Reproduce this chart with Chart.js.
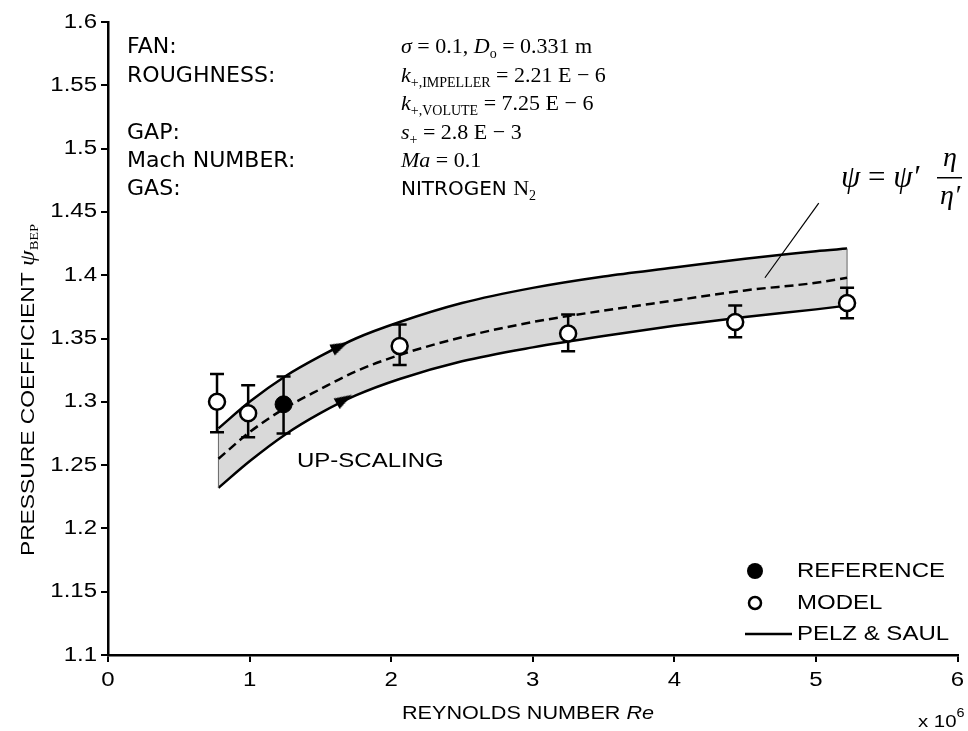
<!DOCTYPE html>
<html>
<head>
<meta charset="utf-8">
<title>Pressure coefficient vs Reynolds number</title>
<script src="https://cdn.jsdelivr.net/npm/chart.js@4.4.1/dist/chart.umd.min.js"></script>
<style>
  html, body { margin: 0; padding: 0; background: #fff; }
  #wrap { width: 968px; height: 731px; }
</style>
</head>
<body>
<div id="wrap"><canvas id="chart" width="968" height="731"></canvas></div>
<script>
// Band (Pelz & Saul up-scaling)
const reValues = [0.78, 1.0, 1.25, 1.5, 1.75, 2.06, 2.5, 3.0, 3.5, 4.0, 4.5, 5.0, 5.22];
const upperPsi = [1.279, 1.300, 1.320, 1.336, 1.350, 1.363, 1.378, 1.390, 1.399, 1.406, 1.413, 1.419, 1.421];
const meanPsi  = [1.255, 1.276, 1.295, 1.310, 1.324, 1.337, 1.351, 1.363, 1.372, 1.380, 1.388, 1.394, 1.398];
const lowerPsi = [1.232, 1.253, 1.274, 1.291, 1.305, 1.318, 1.332, 1.343, 1.352, 1.360, 1.367, 1.373, 1.376];

// Measurements
const modelRe      = [0.77, 0.99, 2.06, 3.25, 4.43, 5.22];
const modelPsi     = [1.300, 1.291, 1.344, 1.354, 1.363, 1.378];
const modelErrLow  = [1.276, 1.272, 1.329, 1.340, 1.351, 1.366];
const modelErrHigh = [1.322, 1.313, 1.361, 1.369, 1.376, 1.390];
const refRe      = [1.24];
const refPsi     = [1.298];
const refErrLow  = [1.275];
const refErrHigh = [1.320];

// direction arrows on the band edges, and the leader line to the formula
const arrowRe  = [1.64, 1.67];
const arrowPsi = [1.344, 1.302];
const leaderRe  = [4.64, 5.02];
const leaderPsi = [1.398, 1.457];

// axes
const xTicks = [0, 1, 2, 3, 4, 5, 6];
const yTicks = [1.1, 1.15, 1.2, 1.25, 1.3, 1.35, 1.4, 1.45, 1.5, 1.55, 1.6];

const SANS = '"Liberation Sans", Arial, sans-serif';
const VERD = '"DejaVu Sans", Verdana, sans-serif';
const SERIF = '"Liberation Serif", "DejaVu Serif", serif';
const STRETCH = 1.2;

function pts(xs, ys) {
  return xs.map((x, i) => ({ x: x, y: ys[i] }));
}

// arrow head pointing right, used as point style
const arrowHead = document.createElement('canvas');
arrowHead.width = 18;
arrowHead.height = 12;
(function () {
  const c = arrowHead.getContext('2d');
  c.fillStyle = '#000';
  c.beginPath();
  c.moveTo(0, 0); c.lineTo(18, 6); c.lineTo(0, 12); c.closePath();
  c.fill();
})();

// draw a run of text pieces, left to right; returns end x
function rich(ctx, x, y, parts, sx) {
  sx = sx || 1;
  let cx = x;
  parts.forEach(p => {
    ctx.save();
    ctx.font = p.f;
    ctx.textAlign = 'left';
    ctx.textBaseline = 'alphabetic';
    ctx.translate(cx, y + (p.dy || 0));
    ctx.scale(sx, 1);
    ctx.fillText(p.t, 0, 0);
    cx += ctx.measureText(p.t).width * sx;
    ctx.restore();
  });
  return cx;
}

function label(ctx, s, x, y, font, align, base, sx) {
  ctx.save();
  ctx.font = font;
  ctx.textAlign = align;
  ctx.textBaseline = base;
  ctx.translate(x, y);
  ctx.scale(sx || 1, 1);
  ctx.fillText(s, 0, 0);
  ctx.restore();
}

const errorBars = {
  id: 'errorBars',
  beforeDatasetDraw(chart, args) {
    if (args.index !== 7) return;
    const ctx = chart.ctx;
    const xs = chart.scales.x, ys = chart.scales.y;
    const sets = [[modelRe, modelErrLow, modelErrHigh], [refRe, refErrLow, refErrHigh]];
    ctx.save();
    ctx.strokeStyle = '#000';
    ctx.lineWidth = 2.5;
    sets.forEach(s => {
      s[0].forEach((re, i) => {
        const px = xs.getPixelForValue(re);
        const lo = ys.getPixelForValue(s[1][i]);
        const hi = ys.getPixelForValue(s[2][i]);
        ctx.beginPath();
        ctx.moveTo(px, lo); ctx.lineTo(px, hi);
        ctx.moveTo(px - 7, lo); ctx.lineTo(px + 7, lo);
        ctx.moveTo(px - 7, hi); ctx.lineTo(px + 7, hi);
        ctx.stroke();
      });
    });
    ctx.restore();
  }
};

const annotations = {
  id: 'annotations',
  afterDraw(chart) {
    const ctx = chart.ctx;
    const xs = chart.scales.x, ys = chart.scales.y;
    ctx.save();
    ctx.fillStyle = '#000';

    // tick labels
    xTicks.forEach(v => {
      label(ctx, String(v), xs.getPixelForValue(v), 680, '20px ' + SANS, 'center', 'middle', STRETCH);
    });
    yTicks.forEach(v => {
      label(ctx, String(v), 97, ys.getPixelForValue(v), '20px ' + SANS, 'right', 'middle', STRETCH);
    });

    // axis titles
    const xParts = [
      { t: 'REYNOLDS NUMBER ', f: '18px ' + SANS },
      { t: 'Re', f: 'italic 18px ' + SANS }
    ];
    const xt = rich(ctx, -1000, -1000, xParts, STRETCH) + 1000;
    rich(ctx, 528 - xt / 2, 719, xParts, STRETCH);
    rich(ctx, 918, 727, [{ t: 'x 10', f: '17px ' + SANS }, { t: '6', f: '12px ' + SANS, dy: -10 }], STRETCH);

    ctx.save();
    ctx.translate(34, 390);
    ctx.rotate(-Math.PI / 2);
    const yParts = [
      { t: 'PRESSURE COEFFICIENT ', f: '19px ' + SANS },
      { t: 'ψ', f: 'italic 21px ' + SERIF },
      { t: 'BEP', f: '12px ' + SERIF, dy: 4 }
    ];
    const yw = rich(ctx, -2000, -2000, yParts, STRETCH) + 2000;
    rich(ctx, -yw / 2, 0, yParts, STRETCH);
    ctx.restore();

    // parameter block
    const rows = [53, 82, 110, 139, 167, 195];
    const lab = '21px ' + VERD;
    [['FAN:', 0], ['ROUGHNESS:', 1], ['GAP:', 3], ['Mach NUMBER:', 4], ['GAS:', 5]].forEach(r => {
      rich(ctx, 127, rows[r[1]], [{ t: r[0], f: lab }], 1.05);
    });
    const it = 'italic 22px ' + SERIF, rm = '22px ' + SERIF, sb = '14px ' + SERIF;
    const cx0 = 401;
    rich(ctx, cx0, rows[0], [
      { t: 'σ', f: it }, { t: ' = 0.1, ', f: rm }, { t: 'D', f: it },
      { t: 'o', f: sb, dy: 5 }, { t: ' = 0.331 m', f: rm }
    ]);
    rich(ctx, cx0, rows[1], [
      { t: 'k', f: it }, { t: '+,IMPELLER', f: sb, dy: 5 }, { t: ' = 2.21 E − 6', f: rm }
    ]);
    rich(ctx, cx0, rows[2], [
      { t: 'k', f: it }, { t: '+,VOLUTE', f: sb, dy: 5 }, { t: ' = 7.25 E − 6', f: rm }
    ]);
    rich(ctx, cx0, rows[3], [
      { t: 's', f: it }, { t: '+', f: sb, dy: 5 }, { t: ' = 2.8 E − 3', f: rm }
    ]);
    rich(ctx, cx0, rows[4], [{ t: 'Ma', f: it }, { t: ' = 0.1', f: rm }]);
    rich(ctx, cx0, rows[5], [
      { t: 'NITROGEN ', f: '20px ' + VERD }, { t: 'N', f: rm }, { t: '2', f: sb, dy: 5 }
    ]);

    // formula psi = psi' eta / eta'
    const fi = 'italic 31px ' + SERIF;
    rich(ctx, 841, 187, [{ t: 'ψ', f: fi }, { t: ' = ', f: '31px ' + SERIF }, { t: 'ψ′', f: fi }]);
    label(ctx, 'η', 950, 166, 'italic 28px ' + SERIF, 'center', 'alphabetic');
    label(ctx, 'η′', 950, 204, 'italic 28px ' + SERIF, 'center', 'alphabetic');
    ctx.fillRect(937, 177, 25, 1.5);

    // up-scaling note
    label(ctx, 'UP-SCALING', 297, 461, '20px ' + SANS, 'left', 'middle', STRETCH);

    // legend
    ctx.lineWidth = 2.5;
    ctx.strokeStyle = '#000';
    ctx.beginPath(); ctx.arc(755, 571, 8, 0, Math.PI * 2); ctx.fill();
    ctx.beginPath(); ctx.arc(755, 603, 6, 0, Math.PI * 2);
    ctx.fillStyle = '#fff'; ctx.fill(); ctx.stroke();
    ctx.fillStyle = '#000';
    ctx.beginPath(); ctx.moveTo(745, 634); ctx.lineTo(792, 634); ctx.stroke();
    label(ctx, 'REFERENCE', 797, 571, '20px ' + SANS, 'left', 'middle', STRETCH);
    label(ctx, 'MODEL', 797, 603, '20px ' + SANS, 'left', 'middle', STRETCH);
    label(ctx, 'PELZ & SAUL', 797, 634, '20px ' + SANS, 'left', 'middle', STRETCH);
    ctx.restore();
  }
};

const ctx = document.getElementById('chart');
new Chart(ctx, {
  type: 'line',
  data: {
    datasets: [
      { // 0 upper edge, fills down to the lower edge
        data: pts(reValues, upperPsi), borderColor: '#000', borderWidth: 2.5,
        backgroundColor: '#d9d9d9', fill: 2, pointRadius: 0,
        cubicInterpolationMode: 'monotone', order: 6
      },
      { // 1 mean, dashed
        data: pts(reValues, meanPsi), borderColor: '#000', borderWidth: 2.5,
        borderDash: [9, 5], fill: false, pointRadius: 0,
        cubicInterpolationMode: 'monotone', order: 4
      },
      { // 2 lower edge
        data: pts(reValues, lowerPsi), borderColor: '#000', borderWidth: 2.5,
        fill: false, pointRadius: 0, cubicInterpolationMode: 'monotone', order: 5
      },
      { // 3 left end of band
        data: [{ x: reValues[0], y: lowerPsi[0] }, { x: reValues[0], y: upperPsi[0] }],
        borderColor: '#666', borderWidth: 1, pointRadius: 0, fill: false, order: 4
      },
      { // 4 right end of band
        data: [{ x: reValues[reValues.length - 1], y: lowerPsi[lowerPsi.length - 1] },
               { x: reValues[reValues.length - 1], y: upperPsi[upperPsi.length - 1] }],
        borderColor: '#666', borderWidth: 1, pointRadius: 0, fill: false, order: 4
      },
      { // 5 leader line
        data: pts(leaderRe, leaderPsi), borderColor: '#000', borderWidth: 1.2,
        pointRadius: 0, fill: false, order: 3
      },
      { // 6 arrows
        data: pts(arrowRe, arrowPsi), showLine: false, pointStyle: arrowHead,
        pointRadius: 9, pointRotation: [-26, -30], order: 3
      },
      { // 7 model
        data: pts(modelRe, modelPsi), showLine: false, pointRadius: 8,
        pointBackgroundColor: '#fff', pointBorderColor: '#000', pointBorderWidth: 2.5, order: 2
      },
      { // 8 reference
        data: pts(refRe, refPsi), showLine: false, pointRadius: 8.5,
        pointBackgroundColor: '#000', pointBorderColor: '#000', pointBorderWidth: 1, order: 1
      }
    ]
  },
  options: {
    responsive: false,
    animation: false,
    layout: { padding: { top: 22, right: 6, left: 0, bottom: 0 } },
    plugins: { legend: { display: false }, tooltip: { enabled: false } },
    scales: {
      x: {
        type: 'linear', min: 0, max: 6,
        afterBuildTicks: s => { s.ticks = xTicks.map(v => ({ value: v })); },
        afterFit: s => { s.height = 76; },
        ticks: { display: false },
        grid: { drawOnChartArea: false, drawTicks: true, tickLength: 7, color: '#000', lineWidth: 2 },
        border: { color: '#000', width: 2.5 }
      },
      y: {
        type: 'linear', min: 1.1, max: 1.6,
        afterBuildTicks: s => { s.ticks = yTicks.map(v => ({ value: v })); },
        afterFit: s => { s.width = 108; },
        ticks: { display: false },
        grid: { drawOnChartArea: false, drawTicks: true, tickLength: 7, color: '#000', lineWidth: 2 },
        border: { color: '#000', width: 2.5 }
      }
    }
  },
  plugins: [errorBars, annotations]
});
</script>
</body>
</html>
